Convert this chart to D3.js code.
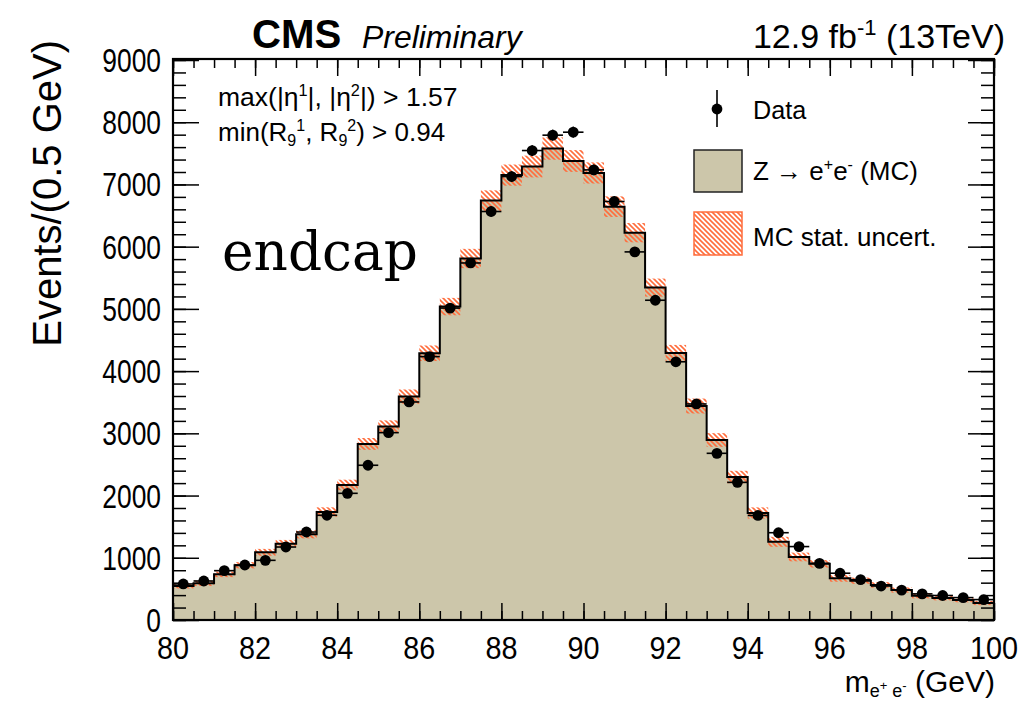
<!DOCTYPE html>
<html><head><meta charset="utf-8">
<script src="https://cdn.jsdelivr.net/npm/d3@7"></script>
<style>body{margin:0;background:#fff} svg{display:block}</style>
</head><body>
<svg id="c" width="1026" height="701"></svg>
<script>
// ---- data ----
const binCenters = [80.25,80.75,81.25,81.75,82.25,82.75,83.25,83.75,84.25,84.75,
  85.25,85.75,86.25,86.75,87.25,87.75,88.25,88.75,89.25,89.75,
  90.25,90.75,91.25,91.75,92.25,92.75,93.25,93.75,94.25,94.75,
  95.25,95.75,96.25,96.75,97.25,97.75,98.25,98.75,99.25,99.75];
const binHalfWidth = 0.25;
const mcValues = [547,590,734,880,1088,1227,1377,1736,2170,2830,
  3108,3590,4287,5037,5810,6740,7150,7288,7577,7377,
  7185,6643,6225,5342,4291,3439,2893,2298,1720,1257,
  1013,903,670,632,563,482,388,354,321,273];
const mcStatErr = [40,42,45,50,55,60,65,75,85,95,
  100,115,125,140,155,165,170,175,180,175,
  170,165,155,145,130,120,110,100,90,80,
  70,60,55,50,45,42,40,38,36,34];
const dataValues = [579,627,793,884,959,1173,1414,1683,2036,2487,
  3011,3504,4233,5013,5738,6565,7127,7545,7792,7840,
  7234,6726,5916,5139,4150,3472,2679,2212,1680,1403,
  1180,910,752,648,546,481,420,394,360,328];
const xTickValues = [80,82,84,86,88,90,92,94,96,98,100];
const yTickValues = [0,1000,2000,3000,4000,5000,6000,7000,8000,9000];
const xDomain = [80,100];
const yDomain = [0,9000];

// ---- layout ----
const L = 173, R = 994, T = 59, B = 620;
const FONT = "'Liberation Sans', Arial, Helvetica, sans-serif";
const fillCol = "#ccc6aa", hatchCol = "#ff6d3d";

const svg = d3.select("#c");
const x = d3.scaleLinear().domain(xDomain).range([L, R]);
const y = d3.scaleLinear().domain(yDomain).range([B, T + 1]);

const defs = svg.append("defs");
const pat = defs.append("pattern").attr("id","hatch").attr("patternUnits","userSpaceOnUse")
  .attr("width",5).attr("height",5);
pat.append("path").attr("d","M-1,-1 L6,6 M-1,4 L1,6 M4,-1 L6,1")
  .attr("stroke",hatchCol).attr("stroke-width",1.6).attr("fill","none");

function txt(parent, px, py, str, size, anchor, sx, opts) {
  opts = opts || {};
  const t = parent.append("text")
    .attr("transform", `translate(${px},${py}) scale(${sx},1)` + (opts.rot ? ` rotate(${opts.rot})` : ""))
    .attr("font-family", opts.family || FONT)
    .attr("font-size", size)
    .attr("text-anchor", anchor)
    .attr("fill", "#000");
  if (opts.weight) t.attr("font-weight", opts.weight);
  if (opts.style) t.attr("font-style", opts.style);
  if (opts.html) t.html(str); else t.text(str);
  return t;
}

// ---- MC histogram ----
const stepPts = binCenters.map((c,i)=>[c-binHalfWidth, mcValues[i]]);
stepPts.push([binCenters[binCenters.length-1]+binHalfWidth, mcValues[mcValues.length-1]]);
const area = d3.area().x(d=>x(d[0])).y0(y(0)).y1(d=>y(d[1])).curve(d3.curveStepAfter);
svg.append("path").attr("d", area(stepPts)).attr("fill", fillCol);

// hatch boxes
svg.append("g").selectAll("rect").data(binCenters).join("rect")
  .attr("x",(c)=>x(c-binHalfWidth))
  .attr("width",(c)=>x(c+binHalfWidth)-x(c-binHalfWidth))
  .attr("y",(c,i)=>y(mcValues[i]+mcStatErr[i]))
  .attr("height",(c,i)=>y(mcValues[i]-mcStatErr[i])-y(mcValues[i]+mcStatErr[i]))
  .attr("fill","url(#hatch)");

const line = d3.line().x(d=>x(d[0])).y(d=>y(d[1])).curve(d3.curveStepAfter);
svg.append("path").attr("d", line(stepPts)).attr("fill","none")
  .attr("stroke","#000").attr("stroke-width",2);

// ---- data points ----
const dg = svg.append("g");
dg.selectAll("line.h").data(binCenters).join("line").attr("class","h")
  .attr("x1",c=>x(c-binHalfWidth)).attr("x2",c=>x(c+binHalfWidth))
  .attr("y1",(c,i)=>y(dataValues[i])).attr("y2",(c,i)=>y(dataValues[i]))
  .attr("stroke","#000").attr("stroke-width",1.6);
dg.selectAll("line.v").data(binCenters).join("line").attr("class","v")
  .attr("x1",c=>x(c)).attr("x2",c=>x(c))
  .attr("y1",(c,i)=>y(dataValues[i]-Math.sqrt(dataValues[i])))
  .attr("y2",(c,i)=>y(dataValues[i]+Math.sqrt(dataValues[i])))
  .attr("stroke","#000").attr("stroke-width",1.6);
dg.selectAll("circle").data(binCenters).join("circle")
  .attr("cx",c=>x(c)).attr("cy",(c,i)=>y(dataValues[i])).attr("r",5.4).attr("fill","#000");

// ---- axes (ROOT style, ticks inward) ----
const xMinor = d3.range(80, 100.001, 0.5);
const yMinor = d3.range(0, 9000.1, 200);
function styleAxis(g){ g.select(".domain").remove(); g.selectAll("line").attr("stroke","#000").attr("stroke-width",1.5); g.selectAll("text").remove(); }
svg.append("g").attr("transform",`translate(0,${B})`).call(d3.axisBottom(x).tickValues(xMinor).tickSize(-9)).call(styleAxis);
svg.append("g").attr("transform",`translate(0,${B})`).call(d3.axisBottom(x).tickValues(xTickValues).tickSize(-17)).call(styleAxis);
svg.append("g").attr("transform",`translate(0,${T})`).call(d3.axisTop(x).tickValues(xMinor).tickSize(-9)).call(styleAxis);
svg.append("g").attr("transform",`translate(0,${T})`).call(d3.axisTop(x).tickValues(xTickValues).tickSize(-17)).call(styleAxis);
svg.append("g").attr("transform",`translate(${L},0)`).call(d3.axisLeft(y).tickValues(yMinor).tickSize(-13)).call(styleAxis);
svg.append("g").attr("transform",`translate(${L},0)`).call(d3.axisLeft(y).tickValues(yTickValues).tickSize(-26)).call(styleAxis);
svg.append("g").attr("transform",`translate(${R},0)`).call(d3.axisRight(y).tickValues(yMinor).tickSize(-13)).call(styleAxis);
svg.append("g").attr("transform",`translate(${R},0)`).call(d3.axisRight(y).tickValues(yTickValues).tickSize(-26)).call(styleAxis);

// frame
svg.append("rect").attr("x",L).attr("y",T).attr("width",R-L).attr("height",B-T)
  .attr("fill","none").attr("stroke","#000").attr("stroke-width",2.2);

// tick labels
const lab = svg.append("g");
xTickValues.forEach(v=>txt(lab, x(v), 659, String(v), 32, "middle", 0.9));
yTickValues.forEach(v=>txt(lab, 161, y(v)+12, String(v), 33, "end", 0.8));

// axis titles
txt(svg, 61, 40, "Events/(0.5 GeV)", 40, "end", 1, {rot:-90});
txt(svg, 995, 692, 'm<tspan font-size="18" dy="5">e</tspan><tspan font-size="13" dy="-7">+</tspan><tspan font-size="18" dy="7"> e</tspan><tspan font-size="13" dy="-7">-</tspan><tspan dy="2"> (GeV)</tspan>', 30, "end", 1.0, {html:true});

// header
txt(svg, 252, 48, "CMS", 41, "start", 0.98, {weight:"bold"});
txt(svg, 362, 48, "Preliminary", 31, "start", 1.03, {style:"italic"});
txt(svg, 1005, 48, '12.9 fb<tspan font-size="22" dy="-13">-1</tspan><tspan dy="13"> (13TeV)</tspan>', 34, "end", 1.0, {html:true});

// cut info
txt(svg, 218, 106, 'max(|η<tspan font-size="16" dy="-10">1</tspan><tspan dy="10">|, |η</tspan><tspan font-size="16" dy="-10">2</tspan><tspan dy="10">|) &gt; 1.57</tspan>', 26, "start", 1.02, {html:true});
txt(svg, 218, 141, 'min(R<tspan font-size="16" dy="5">9</tspan><tspan font-size="16" dy="-15">1</tspan><tspan dy="10">, R</tspan><tspan font-size="16" dy="5">9</tspan><tspan font-size="16" dy="-15">2</tspan><tspan dy="10">) &gt; 0.94</tspan>', 26, "start", 1.0, {html:true});

// endcap label
txt(svg, 222, 270, "endcap", 55, "start", 0.97, {family:"'DejaVu Serif', 'Liberation Serif', serif"});

// legend
const lg = svg.append("g");
lg.append("line").attr("x1",717).attr("x2",717).attr("y1",90).attr("y2",127).attr("stroke","#000").attr("stroke-width",1.6);
lg.append("circle").attr("cx",717).attr("cy",109).attr("r",5.4).attr("fill","#000");
txt(lg, 753, 119, "Data", 26, "start", 0.97);
lg.append("rect").attr("x",694).attr("y",150).attr("width",48).attr("height",42)
  .attr("fill",fillCol).attr("stroke","#222").attr("stroke-width",1.5);
txt(lg, 753, 180, 'Z → e<tspan font-size="16" dy="-10">+</tspan><tspan dy="10">e</tspan><tspan font-size="16" dy="-10">-</tspan><tspan dy="10"> (MC)</tspan>', 26, "start", 1.0, {html:true});
lg.append("rect").attr("x",694).attr("y",212).attr("width",48).attr("height",43)
  .attr("fill","url(#hatch)").attr("stroke",hatchCol).attr("stroke-width",1.5);
txt(lg, 753, 246, "MC stat. uncert.", 26, "start", 1.0);
</script>
</body></html>
